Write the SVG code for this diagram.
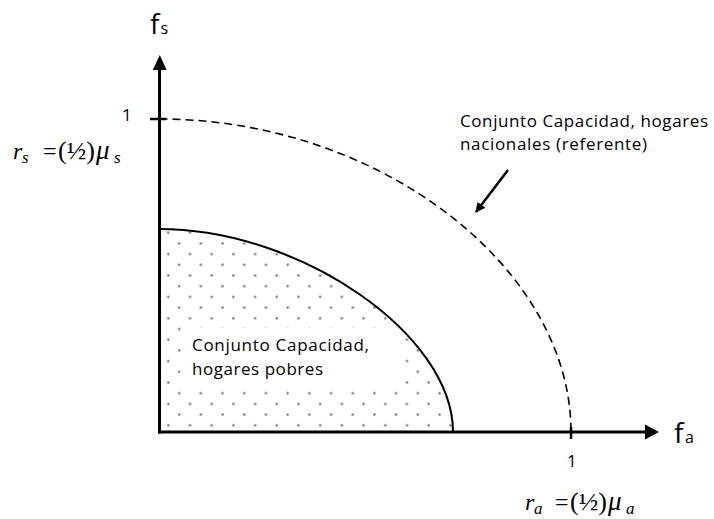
<svg xmlns="http://www.w3.org/2000/svg" width="714" height="519" viewBox="0 0 714 519">
<style>
.lbl{font-family:"Open Sans","Liberation Sans",sans-serif;font-size:17px;fill:#000}
.num{font-family:"Open Sans","Liberation Sans",sans-serif;font-size:17px;fill:#000}
.ax{font-family:"Open Sans","Liberation Sans",sans-serif;fill:#000}
.math{font-family:"Liberation Serif","DejaVu Serif",serif;font-size:24px;fill:#000}
.it{font-style:italic}
.big{font-size:26px}
.mu{font-size:27px;font-style:italic}
.sub{font-size:17px;font-style:italic}
.axis{stroke:#000;stroke-width:3;fill:none}
</style>
<defs>
<pattern id="dots" patternUnits="userSpaceOnUse" x="162.9" y="227.35" width="21.7" height="21.4">
<circle cx="5.4" cy="5.35" r="1.3" fill="#7a7a70"/>
<circle cx="16.25" cy="16.05" r="1.3" fill="#7a7a70"/>
</pattern>
<marker id="ah" markerWidth="10" markerHeight="10" refX="9" refY="5" orient="auto" markerUnits="userSpaceOnUse" viewBox="0 0 10 10">
<path d="M0,0 L10,5 L0,10 Z" fill="#000"/>
</marker>
</defs>
<rect width="714" height="519" fill="#fff"/>

<g id="poor-set">
<path d="M159.5 229 C300.5 229 453 334.6 453 432 L159.5 432 Z" fill="url(#dots)"/>
<rect x="181" y="328" width="220" height="60" fill="#fff"/>
<path d="M159.5 229 C300.5 229 453 334.6 453 432" fill="none" stroke="#000" stroke-width="2"/>
<text class="lbl" x="192" y="351" textLength="177">Conjunto Capacidad,</text>
<text class="lbl" x="192" y="375" textLength="131">hogares pobres</text>
</g>

<g id="national-set">
<path d="M159.5 119 C377.5 119 571 266 571 432" fill="none" stroke="#000" stroke-width="1.6" stroke-dasharray="8,5"/>
<text class="lbl" x="460" y="127" textLength="248">Conjunto Capacidad, hogares</text>
<text class="lbl" x="460" y="150" textLength="187">nacionales (referente)</text>
</g>

<g id="fs-label">
<text class="ax" x="150" y="34" font-size="28">f</text>
<text class="ax" x="160.5" y="34" font-size="16">s</text>
</g>
<g id="fa-label">
<text class="ax" x="674" y="443" font-size="28">f</text>
<text class="ax" x="685" y="443" font-size="16">a</text>
</g>

<g id="tick-labels">
<text class="num" x="122" y="121">1</text>
<text class="num" x="567" y="467">1</text>
</g>

<g id="rs-formula" class="math">
<text x="13" y="159"><tspan class="it">r</tspan><tspan class="sub" x="22" y="162.5">s</tspan><tspan x="43" y="159">=</tspan><tspan class="big" x="58" y="159">(½)</tspan><tspan class="mu" x="96" y="159">μ</tspan><tspan class="sub" x="114" y="162.5">s</tspan></text>
</g>
<g id="ra-formula" class="math">
<text x="525" y="510"><tspan class="it">r</tspan><tspan class="sub" x="534" y="513.5">a</tspan><tspan x="555" y="510">=</tspan><tspan class="big" x="570" y="510">(½)</tspan><tspan class="mu" x="608" y="510">μ</tspan><tspan class="sub" x="626" y="513.5">a</tspan></text>
</g>

<g id="connectors">
<line class="axis" x1="159.5" y1="433.5" x2="159.5" y2="68"/>
<path d="M152.8 70 L159.8 55 L166.6 70 Z" fill="#000"/>
<line class="axis" x1="158" y1="432" x2="646" y2="432"/>
<path d="M645 424.5 L659 432 L645 439.5 Z" fill="#000"/>
<line x1="150" y1="119" x2="166" y2="119" stroke="#000" stroke-width="2.5"/>
<line x1="571" y1="427" x2="571" y2="439" stroke="#000" stroke-width="2.5"/>
<line x1="508" y1="170" x2="476" y2="212" stroke="#000" stroke-width="2.5" marker-end="url(#ah)"/>
</g>
</svg>
